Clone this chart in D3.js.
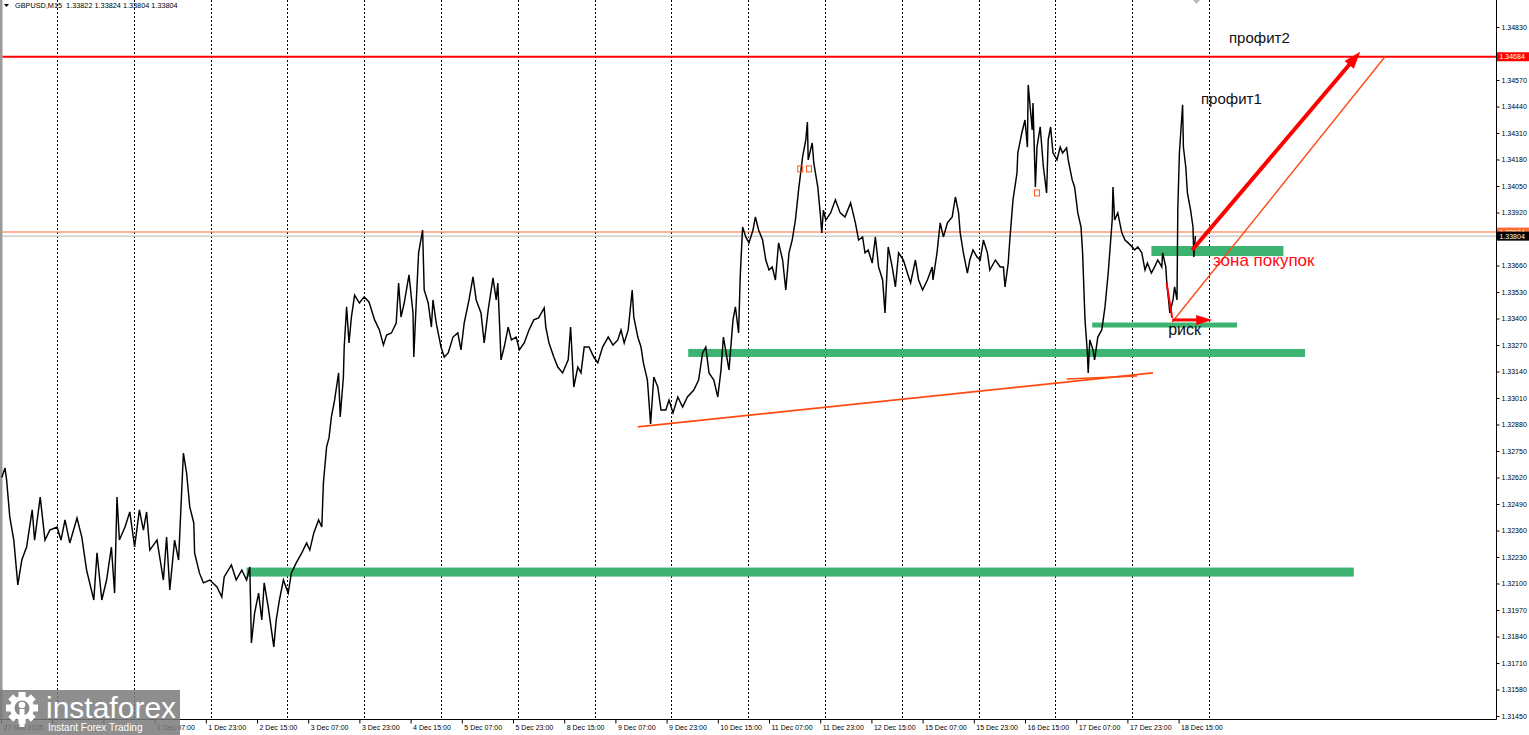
<!DOCTYPE html>
<html><head><meta charset="utf-8">
<script src="https://cdn.jsdelivr.net/npm/d3@7"></script>
<style>html,body{margin:0;padding:0;background:#fff;overflow:hidden}</style>
</head><body>
<svg id="c" width="1529" height="735"></svg>
<script>
const symbolTitle = "GBPUSD,M15  1.33822 1.33824 1.33804 1.33804";
const yTickValues = [1.31450,1.31580,1.31710,1.31840,1.31970,1.32100,1.32230,1.32360,1.32490,1.32620,1.32750,1.32880,1.33010,1.33140,1.33270,1.33400,1.33530,1.33660,1.33790,1.33920,1.34050,1.34180,1.34310,1.34440,1.34570,1.34700,1.34830];
const xTickLabels = ["27 Nov 2025","27 Nov 23:00","28 Nov 15:00","1 Dec 07:00","1 Dec 23:00","2 Dec 15:00","3 Dec 07:00","3 Dec 23:00","4 Dec 15:00","5 Dec 07:00","5 Dec 23:00","8 Dec 15:00","9 Dec 07:00","9 Dec 23:00","10 Dec 15:00","11 Dec 07:00","11 Dec 23:00","12 Dec 15:00","15 Dec 07:00","15 Dec 23:00","16 Dec 15:00","17 Dec 07:00","17 Dec 23:00","18 Dec 15:00"];
const xLabelsUnderLogo = ["27 Nov 23:00","28 Nov 15:00"];
const barsPerLabel = 64;
const barsPerGrid = 96;
// [bar index, close price]
const series = [[1,1.32620],[5,1.32667],[7,1.32608],[11,1.32426],[16,1.32313],[21,1.32093],[26,1.32215],[32,1.32279],[39,1.32461],[42,1.32313],[49,1.32524],[55,1.32313],[61,1.32362],[70,1.32377],[75,1.32313],[80,1.32412],[86,1.32299],[95,1.32421],[101,1.32328],[107,1.32166],[116,1.32019],[120,1.32250],[126,1.32019],[132,1.32117],[138,1.32279],[142,1.32053],[145,1.32524],[148,1.32313],[155,1.32377],[161,1.32451],[167,1.32279],[173,1.32461],[178,1.32362],[182,1.32451],[186,1.32264],[195,1.32313],[203,1.32117],[207,1.32328],[211,1.32068],[217,1.32313],[222,1.32215],[228,1.32740],[232,1.32642],[236,1.32475],[241,1.32397],[242,1.32250],[248,1.32152],[253,1.32103],[261,1.32117],[270,1.32083],[276,1.32034],[279,1.32132],[288,1.32191],[294,1.32117],[301,1.32166],[307,1.32117],[311,1.32181],[313,1.31808],[317,1.31955],[322,1.32053],[326,1.31921],[329,1.32103],[334,1.31985],[341,1.31789],[344,1.31921],[348,1.32019],[353,1.32117],[359,1.32053],[363,1.32152],[369,1.32201],[376,1.32250],[382,1.32299],[386,1.32264],[391,1.32348],[397,1.32412],[401,1.32377],[403,1.32593],[407,1.32770],[410,1.32814],[413,1.32917],[417,1.33000],[422,1.33133],[424,1.32917],[428,1.33113],[429,1.33260],[432,1.33457],[435,1.33280],[438,1.33407],[442,1.33515],[448,1.33476],[454,1.33506],[460,1.33481],[467,1.33393],[473,1.33344],[478,1.33270],[482,1.33319],[488,1.33329],[494,1.33378],[497,1.33574],[500,1.33407],[504,1.33476],[510,1.33614],[515,1.33427],[516,1.33211],[519,1.33476],[522,1.33722],[527,1.33834],[529,1.33540],[534,1.33476],[538,1.33358],[540,1.33491],[544,1.33378],[550,1.33260],[554,1.33211],[559,1.33231],[565,1.33309],[571,1.33329],[575,1.33246],[579,1.33378],[585,1.33491],[590,1.33604],[594,1.33491],[600,1.33427],[604,1.33280],[609,1.33442],[615,1.33599],[619,1.33491],[621,1.33574],[623,1.33393],[625,1.33197],[629,1.33260],[634,1.33358],[638,1.33295],[644,1.33309],[648,1.33246],[654,1.33280],[660,1.33344],[666,1.33393],[672,1.33403],[679,1.33452],[681,1.33358],[685,1.33280],[691,1.33211],[696,1.33162],[702,1.33133],[709,1.33197],[712,1.33358],[716,1.33064],[721,1.33162],[725,1.33133],[729,1.33260],[735,1.33260],[741,1.33211],[746,1.33182],[752,1.33260],[759,1.33309],[765,1.33270],[771,1.33295],[775,1.33344],[779,1.33280],[784,1.33344],[789,1.33540],[791,1.33407],[796,1.33309],[800,1.33260],[803,1.33182],[808,1.33098],[812,1.32883],[816,1.33113],[821,1.33064],[825,1.32951],[831,1.32951],[835,1.33000],[840,1.32937],[846,1.33015],[852,1.32966],[858,1.33015],[866,1.33049],[872,1.33098],[877,1.33231],[881,1.33260],[885,1.33133],[891,1.33098],[896,1.33015],[900,1.33148],[903,1.33309],[910,1.33148],[915,1.33393],[918,1.33457],[922,1.33329],[924,1.33604],[927,1.33849],[931,1.33800],[935,1.33771],[940,1.33834],[943,1.33898],[947,1.33834],[952,1.33785],[956,1.33687],[960,1.33638],[964,1.33653],[968,1.33589],[972,1.33771],[977,1.33687],[981,1.33540],[985,1.33722],[989,1.33785],[993,1.33883],[997,1.34031],[1002,1.34193],[1006,1.34276],[1008,1.34364],[1009,1.34178],[1014,1.34261],[1016,1.34163],[1021,1.34045],[1024,1.33918],[1026,1.33820],[1028,1.33932],[1031,1.33883],[1037,1.33918],[1043,1.33982],[1049,1.33918],[1055,1.33898],[1062,1.33967],[1068,1.33869],[1072,1.33785],[1077,1.33800],[1080,1.33722],[1084,1.33736],[1089,1.33672],[1093,1.33800],[1097,1.33653],[1102,1.33589],[1105,1.33427],[1109,1.33751],[1114,1.33653],[1118,1.33555],[1122,1.33722],[1128,1.33687],[1133,1.33623],[1137,1.33574],[1143,1.33687],[1147,1.33589],[1152,1.33540],[1158,1.33589],[1164,1.33653],[1165,1.33589],[1170,1.33722],[1174,1.33869],[1178,1.33800],[1183,1.33869],[1189,1.33898],[1193,1.33996],[1197,1.33918],[1199,1.33820],[1203,1.33722],[1208,1.33623],[1211,1.33687],[1215,1.33736],[1220,1.33702],[1224,1.33687],[1228,1.33785],[1233,1.33722],[1236,1.33638],[1243,1.33687],[1249,1.33653],[1253,1.33653],[1255,1.33555],[1259,1.33672],[1261,1.33785],[1265,1.33982],[1270,1.34114],[1271,1.34212],[1276,1.34310],[1280,1.34374],[1283,1.34241],[1284,1.34546],[1289,1.34325],[1290,1.34457],[1293,1.34045],[1295,1.34241],[1299,1.34340],[1303,1.34143],[1307,1.34016],[1309,1.34276],[1312,1.34340],[1315,1.34212],[1320,1.34178],[1324,1.34241],[1327,1.34212],[1332,1.34237],[1334,1.34178],[1339,1.34080],[1342,1.34045],[1346,1.33918],[1350,1.33849],[1352,1.33722],[1355,1.33393],[1358,1.33231],[1359,1.33133],[1361,1.33295],[1365,1.33246],[1367,1.33197],[1371,1.33309],[1376,1.33344],[1380,1.33457],[1384,1.33623],[1389,1.33883],[1390,1.34045],[1392,1.33883],[1396,1.33918],[1401,1.33820],[1405,1.33785],[1409,1.33771],[1414,1.33751],[1417,1.33736],[1421,1.33751],[1426,1.33722],[1430,1.33638],[1433,1.33672],[1438,1.33623],[1442,1.33653],[1446,1.33687],[1451,1.33653],[1452,1.33722],[1456,1.33653],[1457,1.33589],[1461,1.33427],[1465,1.33491],[1467,1.33555],[1470,1.33491],[1471,1.33932],[1473,1.34212],[1477,1.34448],[1478,1.34241],[1481,1.34143],[1483,1.34016],[1487,1.33932],[1490,1.33849],[1491,1.33702],[1493,1.33804]];
// horizontal level lines and right-axis price labels
const levelPrices = [1.34684, 1.33824, 1.33804];
const levelColors = ["#ff0000", "#ff6a33", "#c4c4c4"];
const labelFills = ["#ff0000", "#ff6a33", "#000000"];
// green zones
const zoneStartBars = [307, 859, 1364, 1438];
const zoneEndBars = [1691, 1630, 1545, 1603];
const zonePrices = [1.32156, 1.33231, 1.33368, 1.33731];
const zoneThickness = [9, 8, 5, 10];
// drawn lines [bar, price]
const trendLine = [[796, 1.32868], [1440, 1.33133]];
const trendLine2 = [[1332, 1.33103], [1420, 1.33118]];
const targetLine = [[1464, 1.33383], [1730, 1.34684]];
const dropLine = [[1457, 1.33574], [1464, 1.33403]];
const profitArrow = [[1489, 1.33736], [1699, 1.34708]];
const riskArrow = [[1464, 1.33393], [1514, 1.33393]];
// text annotations
const noteTexts = ["профит2", "профит1", "зона покупок", "риск"];
const noteBars = [1535, 1500, 1515, 1459];
const notePrices = [1.34752, 1.34452, 1.33658, 1.33319];
const noteColors = ["#111", "#111", "#ff0a14", "#111"];
const noteSizes = [15, 15, 17, 16];
// trade markers
const markerBars = [999, 1010, 1295];
const markerPrices = [1.34134, 1.34134, 1.34016];

const svg = d3.select("#c");
const FONT = "'Liberation Sans', Arial, sans-serif";
const x = d3.scaleLinear().domain([0, 1869.5]).range([1, 1496.6]);
const y = d3.scaleLinear().domain([1.31450, 1.34830]).range([716, 27]);
const AX = 1496.5, AY = 719.5;

// left frame
svg.append("rect").attr("x", 0).attr("y", 0).attr("width", 2.5).attr("height", 719).attr("fill", "#9a9a9a");

// grid
const gridBars = d3.range(70, 1511, barsPerGrid);
svg.append("g").selectAll("line").data(gridBars).join("line")
  .attr("x1", d => Math.round(x(d)) + 0.5).attr("x2", d => Math.round(x(d)) + 0.5)
  .attr("y1", 0).attr("y2", AY)
  .attr("stroke", "#000").attr("stroke-width", 1).attr("stroke-dasharray", "2,2");

// levels
svg.append("g").selectAll("line").data(levelPrices).join("line")
  .attr("x1", 2.5).attr("x2", AX)
  .attr("y1", d => y(d)).attr("y2", d => y(d))
  .attr("stroke", (d, i) => levelColors[i])
  .attr("stroke-width", (d, i) => i === 0 ? 2 : 1.1);

// zones
svg.append("g").selectAll("rect").data(zonePrices).join("rect")
  .attr("x", (d, i) => x(zoneStartBars[i]))
  .attr("width", (d, i) => x(zoneEndBars[i]) - x(zoneStartBars[i]))
  .attr("y", (d, i) => y(d) - zoneThickness[i] / 2)
  .attr("height", (d, i) => zoneThickness[i])
  .attr("fill", "#3cb371");

// trend lines
const seg = d3.line().x(d => x(d[0])).y(d => y(d[1]));
svg.append("path").attr("d", seg(trendLine)).attr("fill", "none").attr("stroke", "#ff4a12").attr("stroke-width", 1.8);
svg.append("path").attr("d", seg(trendLine2)).attr("fill", "none").attr("stroke", "#ff4a12").attr("stroke-width", 1.6);

// price line
svg.append("path").datum(series)
  .attr("d", d3.line().x(d => x(d[0])).y(d => y(d[1])))
  .attr("fill", "none").attr("stroke", "#000").attr("stroke-width", 1.45).attr("stroke-linejoin", "miter");

// target thin line and drop line
svg.append("path").attr("d", seg(targetLine)).attr("fill", "none").attr("stroke", "#ff4a12").attr("stroke-width", 1.4);
svg.append("path").attr("d", seg(dropLine)).attr("fill", "none").attr("stroke", "#ff0000").attr("stroke-width", 2);

// arrows
function arrow(pts, w, headLen, headW, color) {
  const x0 = x(pts[0][0]), y0 = y(pts[0][1]), x1 = x(pts[1][0]), y1 = y(pts[1][1]);
  const L = Math.hypot(x1 - x0, y1 - y0), ux = (x1 - x0) / L, uy = (y1 - y0) / L;
  const bx = x1 - ux * headLen, by = y1 - uy * headLen;
  svg.append("line").attr("x1", x0).attr("y1", y0).attr("x2", bx + ux).attr("y2", by + uy)
    .attr("stroke", color).attr("stroke-width", w);
  const nx = -uy, ny = ux;
  svg.append("path").attr("d", `M${x1},${y1}L${bx + nx * headW / 2},${by + ny * headW / 2}L${bx - nx * headW / 2},${by - ny * headW / 2}Z`)
    .attr("fill", color);
}
arrow(profitArrow, 4, 17, 12, "#ff0000");
arrow(riskArrow, 3, 16, 10, "#ff0000");

// markers
svg.append("g").selectAll("rect").data(markerBars).join("rect")
  .attr("x", d => x(d) - 2.5).attr("y", (d, i) => y(markerPrices[i]) - 3)
  .attr("width", 5).attr("height", 6).attr("fill", "none").attr("stroke", "#ff5a1e").attr("stroke-width", 1);

// notes
svg.append("g").selectAll("text").data(noteTexts).join("text")
  .attr("x", (d, i) => x(noteBars[i])).attr("y", (d, i) => y(notePrices[i]))
  .attr("font-family", FONT).attr("font-size", (d, i) => noteSizes[i])
  .attr("fill", (d, i) => noteColors[i]).text(d => d);

// top glyph
svg.append("path").attr("d", "M1193,0L1200,0L1196.5,4Z").attr("fill", "#bbb");

// axes lines
svg.append("line").attr("x1", AX).attr("x2", AX).attr("y1", 0).attr("y2", AY).attr("stroke", "#000");
svg.append("line").attr("x1", 0).attr("x2", AX).attr("y1", AY).attr("y2", AY).attr("stroke", "#000");

// y axis (labels under the price boxes are hidden)
const fmt = d3.format(".5f");
const covered = v => levelPrices.some(p => Math.abs(y(p) - y(v)) < 9);
const gy = svg.append("g").attr("transform", `translate(${AX},0)`)
  .call(d3.axisRight(y).tickValues(yTickValues).tickSize(3).tickPadding(2).tickFormat(v => covered(v) ? "" : fmt(v)));
gy.select(".domain").remove();
gy.selectAll("text").attr("font-family", FONT).attr("font-size", 7).attr("fill", "#000");

// x axis (labels under the logo are hidden)
const xTickBars = xTickLabels.map((d, i) => i * barsPerLabel);
const gx = svg.append("g").attr("transform", `translate(0,${AY})`)
  .call(d3.axisBottom(x).tickValues(xTickBars).tickSize(4).tickPadding(2)
    .tickFormat((d, i) => xLabelsUnderLogo.includes(xTickLabels[i]) ? "" : xTickLabels[i]));
gx.select(".domain").remove();
gx.selectAll("text").attr("font-family", FONT).attr("font-size", 7).attr("fill", "#000")
  .attr("text-anchor", "start").attr("dx", 2);

// right price labels (orange under black)
const labelOrder = [1, 2, 0];
labelOrder.forEach(i => {
  const yy = y(levelPrices[i]);
  svg.append("rect").attr("x", AX + 0.5).attr("y", yy - 4.5).attr("width", 33).attr("height", 9).attr("fill", labelFills[i]);
  svg.append("text").attr("x", AX + 3).attr("y", yy + 2.5).attr("font-family", FONT).attr("font-size", 7)
    .attr("fill", "#fff").text(fmt(levelPrices[i]));
});

// title
svg.append("path").attr("d", "M4,4L9,4L6.5,7Z").attr("fill", "#000");
svg.append("text").attr("x", 15).attr("y", 8).attr("font-family", FONT).attr("font-size", 7.3)
  .attr("fill", "#000").attr("xml:space", "preserve").text(symbolTitle);

// logo
const logo = svg.append("g");
logo.append("rect").attr("x", 0).attr("y", 690).attr("width", 180).attr("height", 45).attr("fill", "#7a7a7a").attr("opacity", 0.85);
const gcx = 22, gcy = 708;
logo.selectAll("rect.tooth").data(d3.range(8)).join("rect").attr("class", "tooth")
  .attr("x", gcx - 3.5).attr("y", gcy - 16).attr("width", 7).attr("height", 7)
  .attr("fill", "#fff").attr("transform", d => `rotate(${d * 45},${gcx},${gcy})`);
logo.append("circle").attr("cx", gcx).attr("cy", gcy).attr("r", 12).attr("fill", "#fff");
logo.append("circle").attr("cx", gcx).attr("cy", gcy).attr("r", 7.5).attr("fill", "#8a8a8a");
logo.append("circle").attr("cx", gcx).attr("cy", gcy - 3).attr("r", 3.3).attr("fill", "#fff");
logo.append("rect").attr("x", gcx - 2.5).attr("y", gcy + 1).attr("width", 5).attr("height", 18).attr("fill", "#fff");
logo.append("text").attr("x", 46).attr("y", 718).attr("font-family", FONT).attr("font-size", 30).attr("fill", "#fff").text("instaforex");
logo.append("text").attr("x", 48).attr("y", 731).attr("font-family", FONT).attr("font-size", 10).attr("fill", "#fff").text("Instant Forex Trading");
</script>
</body></html>
